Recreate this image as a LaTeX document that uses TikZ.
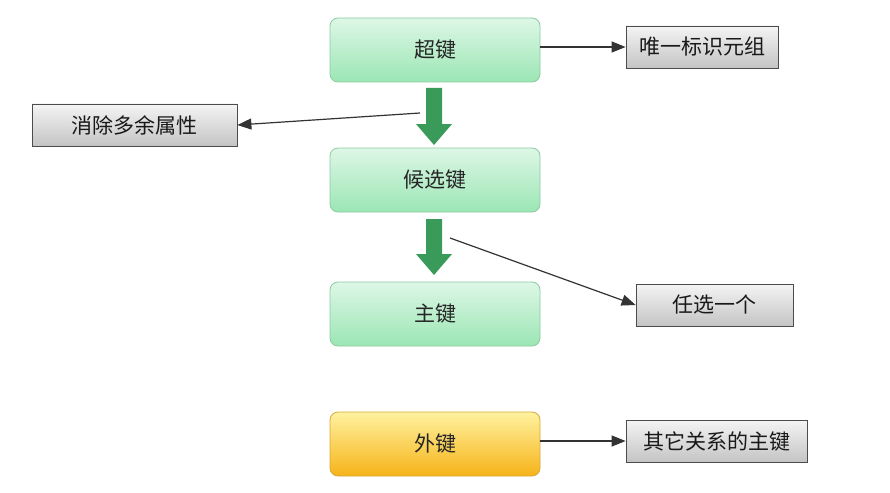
\documentclass[tikz,border=0pt]{standalone}
\usepackage{fontspec}
\setmainfont{Noto Sans CJK SC}
\usetikzlibrary{arrows.meta}
\definecolor{gtop}{HTML}{DDF7E6}
\definecolor{gbot}{HTML}{9BE6B4}
\definecolor{gedge}{HTML}{8CCBA2}
\definecolor{otop}{HTML}{FFF2A0}
\definecolor{obot}{HTML}{F6B318}
\definecolor{oedge}{HTML}{D8A838}
\definecolor{btop}{HTML}{F4F4F4}
\definecolor{bbot}{HTML}{C4C4C4}
\definecolor{arr}{HTML}{3A9A5A}
\tikzset{
  gbox/.style={draw=gedge,line width=0.8pt,rounded corners=8pt,top color=gtop,bottom color=gbot,minimum width=210pt,minimum height=64pt,font=\fontsize{21}{24}\selectfont,text=black!85},
  obox/.style={gbox,draw=oedge,top color=otop,bottom color=obot},
  nbox/.style={draw=black!70,line width=0.8pt,top color=btop,bottom color=bbot,minimum height=42pt,font=\fontsize{21}{24}\selectfont,text=black!90},
  con/.style={-{Triangle[length=14pt,width=11pt]},line width=1.2pt,black!80},
  bigarr/.style={fill=arr,draw=none}
}
\begin{document}
\begin{tikzpicture}[x=1pt,y=-1pt]
\useasboundingbox[fill=white] (0,0) rectangle (890,492);
\node[gbox] (sk) at (435,50) {超键};
\node[gbox] (ck) at (435,180) {候选键};
\node[gbox] (pk) at (435,314) {主键};
\node[obox] (fk) at (435,444) {外键};
\node[nbox,minimum width=152pt] (n1) at (702,47) {唯一标识元组};
\node[nbox,minimum width=205pt] (n2) at (134.5,125) {消除多余属性};
\node[nbox,minimum width=157pt] (n3) at (714.5,305) {任选一个};
\node[nbox,minimum width=181pt] (n4) at (716.5,441) {其它关系的主键};
\fill[bigarr] (426,88) -- (442,88) -- (442,124) -- (452,124) -- (434,145) -- (416,124) -- (426,124) -- cycle;
\fill[bigarr] (426,219) -- (442,219) -- (442,254) -- (452,254) -- (434,275) -- (416,254) -- (426,254) -- cycle;
\coordinate (p1) at (420,113);
\coordinate (p2) at (450,238);
\draw[con] (sk.east |- n1) -- (n1.west);
\draw[con] (p1) -- (n2.east);
\draw[con] (p2) -- (n3.west);
\draw[con] (fk.east |- n4) -- (n4.west);
\end{tikzpicture}
\end{document}
